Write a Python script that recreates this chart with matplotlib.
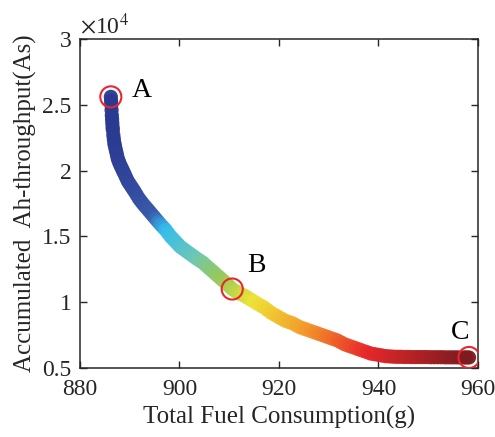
import numpy as np
import matplotlib.pyplot as plt
from matplotlib.colors import LinearSegmentedColormap

plt.rcParams['font.family'] = ['Liberation Serif', 'DejaVu Serif']
plt.rcParams['mathtext.fontset'] = 'stix'

# Pareto front points
fuel = [886.2, 886.25, 886.3, 886.35, 886.4, 886.45, 886.5, 886.55, 886.6, 886.7,
        886.8, 886.9, 887.0, 887.15, 887.3, 887.45, 887.6, 887.8, 888.0, 888.25,
        888.5, 888.75, 889.0, 889.3, 889.6, 889.95, 890.3, 890.65, 891.0, 891.4,
        891.8, 892.2, 892.6, 893.05, 893.5, 893.95, 894.4, 894.85, 895.3, 895.75,
        896.2, 896.7, 897.2, 897.7, 898.2, 898.7, 899.2, 899.7, 900.2, 900.75,
        901.3, 901.85, 902.4, 902.95, 903.5, 904.1, 904.7, 905.3, 905.9, 906.5,
        907.1, 907.7, 908.3, 908.9, 909.5, 910.05, 910.6, 911.2, 911.8, 912.4,
        913.0, 913.65, 914.3, 914.95, 915.6, 916.3, 917.0, 917.7, 918.4, 919.1,
        919.8, 920.5, 921.2, 921.95, 922.7, 923.45, 924.2, 924.95, 925.7, 926.45,
        927.2, 927.95, 928.7, 929.45, 930.2, 930.95, 931.7, 932.45, 933.2, 933.95,
        934.7, 935.45, 936.2, 936.95, 937.7, 938.45, 939.2, 939.95, 940.7, 941.45,
        942.2, 942.95, 943.7, 944.45, 945.2, 945.95, 946.7, 947.45, 948.2, 948.95,
        949.7, 950.45, 951.2, 951.95, 952.7, 953.45, 954.2, 954.95, 955.7, 956.45,
        957.2, 957.7, 958.2]
ah = [25600, 25300, 25000, 24600, 24200, 23900, 23600, 23300, 23100, 22700,
      22400, 22100, 21900, 21650, 21400, 21150, 20900, 20700, 20500, 20300,
      20100, 19900, 19700, 19450, 19200, 19000, 18800, 18600, 18400, 18150,
      17900, 17700, 17500, 17300, 17100, 16900, 16700, 16500, 16300, 16100,
      15900, 15700, 15500, 15250, 15000, 14800, 14600, 14400, 14200, 14050,
      13900, 13750, 13600, 13450, 13300, 13150, 13000, 12800, 12600, 12400,
      12200, 12000, 11800, 11600, 11400, 11200, 11000, 10850, 10700, 10600,
      10500, 10350, 10200, 10050, 9900, 9750, 9600, 9400, 9200, 9050,
      8900, 8750, 8600, 8500, 8400, 8250, 8100, 8000, 7900, 7800,
      7700, 7600, 7500, 7400, 7300, 7200, 7100, 6950, 6800, 6700,
      6600, 6500, 6400, 6300, 6200, 6100, 6050, 6000, 5950, 5900,
      5880, 5860, 5850, 5850, 5840, 5840, 5830, 5830, 5830, 5830,
      5830, 5820, 5820, 5820, 5820, 5810, 5810, 5810, 5810, 5800,
      5800, 5800, 5800]

marked_x = [886.2, 910.6, 958.2]
marked_y = [25600, 11000, 5800]
marked_lab = ["A", "B", "C"]
lab_x = [892.5, 915.4, 956.4]
lab_y = [26100, 12800, 7700]

colors = [(0.0, "#2b3990"), (0.12, "#3a5aab"), (0.155, "#34bdee"),
          (0.24, "#6fc7b5"), (0.31, "#98c95a"), (0.40, "#eee437"),
          (0.55, "#f39a2a"), (0.72, "#e8282a"), (1.0, "#7a1b20")]
cmap = LinearSegmentedColormap.from_list("front", colors)

fuel = np.array(fuel)
ah = np.array(ah) / 1e4

fig = plt.figure(figsize=(4.95, 4.37), dpi=100)
ax = fig.add_axes([0.1616, 0.1579, 0.804, 0.753])

ax.scatter(fuel, ah, c=fuel, cmap=cmap, vmin=886, vmax=958.5,
           s=105, edgecolors="none", alpha=0.95, zorder=2)
ax.scatter(marked_x, np.array(marked_y) / 1e4, s=230, facecolors="none",
           edgecolors="#e8262b", linewidths=1.5, zorder=3)

for x, y, lab in zip(lab_x, lab_y, marked_lab):
    ax.text(x, y / 1e4, lab, fontsize=20, ha="center", va="center")

ax.set_xlim(880, 960)
ax.set_ylim(0.5, 3)
ax.set_xticks([880, 900, 920, 940, 960])
ax.set_yticks([0.5, 1, 1.5, 2, 2.5, 3])
ax.set_yticklabels(["0.5", "1", "1.5", "2", "2.5", "3"])
ax.tick_params(direction="in", length=5, width=1, top=True, right=True,
               labelsize=17, colors="#262626")
ax.tick_params(axis="x", pad=8)
ax.tick_params(axis="y", pad=6)
for sp in ax.spines.values():
    sp.set_linewidth(1.1)
    sp.set_color("#262626")

ax.text(0.0, 1.0, r"$\times$10$^4$", transform=ax.transAxes, fontsize=17,
        ha="left", va="bottom", color="#262626")
ax.set_xlabel("Total Fuel Consumption(g)", fontsize=18, color="#262626",
              labelpad=4)
ax.set_ylabel("Accumulated  Ah-throughput(As)", fontsize=18, color="#262626",
              labelpad=4)

fig.savefig("out.png", dpi=100)
